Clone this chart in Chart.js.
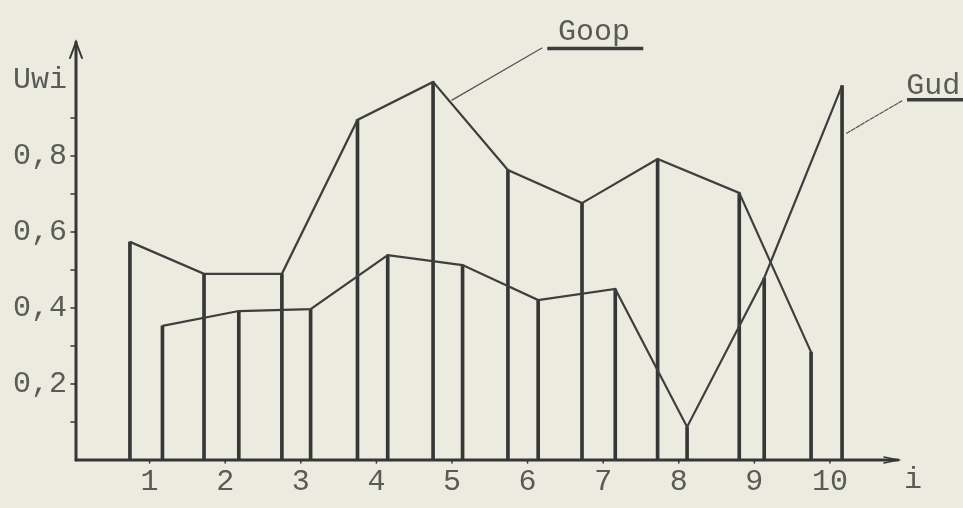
<!DOCTYPE html>
<html>
<head>
<meta charset="utf-8">
<script src="https://cdn.jsdelivr.net/npm/chart.js@4.4.1/dist/chart.umd.min.js"></script>
<style>
  html, body { margin: 0; padding: 0; background: #ecebdf; }
  #wrap { width: 963px; height: 508px; }
</style>
</head>
<body>
<div id="wrap"><canvas id="c" width="963" height="508"></canvas></div>
<script>
// ---- data (x in units of i, y in units of Uwi) ----
const xTicks = [1, 2, 3, 4, 5, 6, 7, 8, 9, 10];
const yTicks = [0.2, 0.4, 0.6, 0.8, 1.0];
const yTickLabels = ["0,2", "0,4", "0,6", "0,8", "Uwi"];
const goopX = [0.74, 1.72, 2.75, 3.75, 4.75, 5.74, 6.72, 7.72, 8.80, 9.75];
const goopY = [0.574, 0.490, 0.490, 0.895, 0.995, 0.763, 0.676, 0.792, 0.703, 0.284];
const gudX  = [1.17, 2.18, 3.13, 4.15, 5.14, 6.14, 7.16, 8.11, 9.13, 10.16];
const gudY  = [0.353, 0.392, 0.397, 0.539, 0.513, 0.421, 0.450, 0.087, 0.479, 0.985];

const ink = '#363636';
const textInk = '#5a5a56';
const FONT = '"Liberation Mono", "DejaVu Sans Mono", monospace';

const pts = (xs, ys) => xs.map((x, i) => ({ x: x, y: ys[i] }));

const decor = {
  id: 'decor',
  beforeDraw(chart) {
    const ctx = chart.ctx;
    ctx.save();
    ctx.fillStyle = '#ecebdf';
    ctx.fillRect(0, 0, chart.width, chart.height);
    ctx.restore();
  },
  afterDatasetsDraw(chart) {
    const ctx = chart.ctx;
    const xs = chart.scales.x, ys = chart.scales.y;
    const X = v => xs.getPixelForValue(v), Y = v => ys.getPixelForValue(v);
    const a = chart.chartArea;
    ctx.save();
    ctx.strokeStyle = ink;
    ctx.fillStyle = ink;
    ctx.lineCap = 'round';
    // y axis
    ctx.lineWidth = 3;
    ctx.beginPath();
    ctx.moveTo(a.left + 2, a.bottom);
    ctx.lineTo(a.left + 2, a.top);
    ctx.stroke();
    ctx.lineWidth = 2;
    ctx.beginPath();
    ctx.moveTo(a.left - 4, a.top + 16);
    ctx.lineTo(a.left + 2, a.top);
    ctx.lineTo(a.left + 8, a.top + 16);
    ctx.stroke();
    // x axis
    ctx.lineWidth = 3;
    ctx.beginPath();
    ctx.moveTo(a.left + 2, a.bottom);
    ctx.lineTo(a.right, a.bottom);
    ctx.stroke();
    ctx.lineWidth = 1.5;
    ctx.beginPath();
    ctx.moveTo(a.right - 14, a.bottom - 3);
    ctx.lineTo(a.right, a.bottom);
    ctx.lineTo(a.right - 14, a.bottom + 3);
    ctx.stroke();
    // small ticks
    ctx.lineWidth = 1.5;
    for (let k = 1; k <= 9; k++) {
      const y = Y(k / 10);
      ctx.beginPath();
      ctx.moveTo(a.left - 3, y);
      ctx.lineTo(a.left + 2, y);
      ctx.stroke();
    }
    xTicks.forEach(t => {
      ctx.beginPath();
      ctx.moveTo(X(t), a.bottom);
      ctx.lineTo(X(t), a.bottom + 3);
      ctx.stroke();
    });

    // leader lines
    ctx.lineWidth = 1.2;
    ctx.strokeStyle = '#555';
    ctx.beginPath();
    ctx.moveTo(X(5.0), Y(0.947));
    ctx.lineTo(X(6.19), Y(1.084));
    ctx.stroke();
    ctx.setLineDash([4, 1.5]);
    ctx.beginPath();
    ctx.moveTo(X(10.22), Y(0.86));
    ctx.lineTo(X(10.95), Y(0.945));
    ctx.stroke();
    ctx.setLineDash([]);

    // underlines
    ctx.strokeStyle = '#3c3c3c';
    ctx.lineWidth = 3.5;
    ctx.lineCap = 'butt';
    ctx.beginPath();
    ctx.moveTo(X(6.26), Y(1.083));
    ctx.lineTo(X(7.53), Y(1.083));
    ctx.stroke();
    ctx.beginPath();
    ctx.moveTo(X(11.02), Y(0.948));
    ctx.lineTo(X(11.8), Y(0.948));
    ctx.stroke();

    // labels
    ctx.fillStyle = textInk;
    ctx.font = '30px ' + FONT;
    ctx.textBaseline = 'alphabetic';
    ctx.textAlign = 'center';
    ctx.fillText('Goop', X(6.88), Y(1.105));
    ctx.textAlign = 'left';
    ctx.fillText('Gud', X(11.01), Y(0.962));
    ctx.textAlign = 'center';
    ctx.fillText('i', X(11.1), a.bottom + 28);
    ctx.restore();
  }
};

const barDs = (label, xs, ys) => ({
  type: 'bar', label: label, data: pts(xs, ys),
  backgroundColor: ink, borderWidth: 0,
  barThickness: 3, grouped: false, order: 2
});
const lineDs = (label, xs, ys) => ({
  type: 'line', label: label, data: pts(xs, ys),
  borderColor: '#3e3e3e', borderWidth: 2.2, pointRadius: 0,
  tension: 0, fill: false, order: 1
});

new Chart(document.getElementById('c'), {
  type: 'bar',
  data: {
    datasets: [
      barDs('Goop', goopX, goopY),
      barDs('Gud', gudX, gudY),
      lineDs('Goop', goopX, goopY),
      lineDs('Gud', gudX, gudY)
    ]
  },
  options: {
    responsive: false,
    animation: false,
    devicePixelRatio: 1,
    layout: { padding: { top: 42, right: 65, left: 0, bottom: 0 } },
    plugins: { legend: { display: false }, tooltip: { enabled: false } },
    scales: {
      x: {
        type: 'linear', min: 0, max: 10.9, offset: false,
        grid: { display: false, drawTicks: false },
        border: { display: false },
        afterFit: s => { s.height = 48; },
        afterBuildTicks: s => { s.ticks = xTicks.map(v => ({ value: v })); },
        ticks: {
          padding: 4, autoSkip: false, maxRotation: 0,
          color: textInk, font: { family: FONT, size: 30 },
          callback: v => String(v)
        }
      },
      y: {
        type: 'linear', min: 0, max: 1.1,
        grid: { display: false, drawTicks: false },
        border: { display: false },
        afterFit: s => { s.width = 74; },
        afterBuildTicks: s => { s.ticks = yTicks.map(v => ({ value: v })); },
        ticks: {
          padding: 7, autoSkip: false,
          color: textInk, font: { family: FONT, size: 30 },
          callback: v => yTickLabels[yTicks.findIndex(t => Math.abs(t - v) < 1e-6)]
        }
      }
    }
  },
  plugins: [decor]
});
</script>
</body>
</html>
